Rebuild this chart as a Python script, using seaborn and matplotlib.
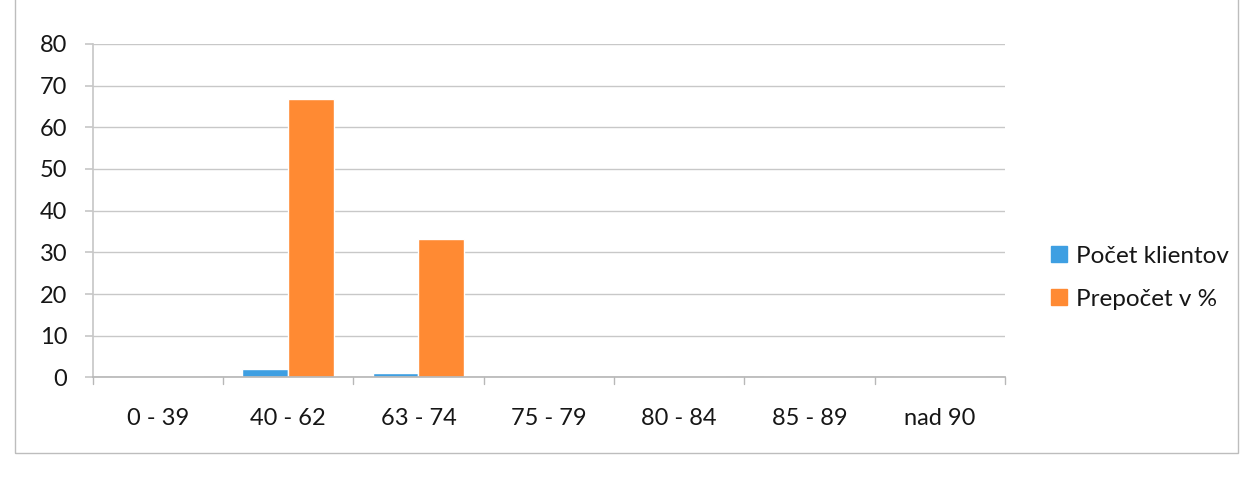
import matplotlib
matplotlib.use("Agg")
import matplotlib.pyplot as plt
import seaborn as sns
import pandas as pd
from matplotlib.patches import Rectangle
from matplotlib.lines import Line2D

categories = ["0 - 39", "40 - 62", "63 - 74", "75 - 79", "80 - 84", "85 - 89", "nad 90"]
pocet_klientov = [0, 2, 1, 0, 0, 0, 0]
prepocet_pct = [0, 66.7, 33.3, 0, 0, 0, 0]
series_names = ["Počet klientov", "Prepočet v %"]
colors = ["#3E9FE2", "#FF8A33"]

df = pd.DataFrame({
    "Veková skupina": categories * 2,
    "Hodnota": pocet_klientov + prepocet_pct,
    "Séria": [series_names[0]] * len(categories) + [series_names[1]] * len(categories),
})

sns.set_theme(style="white")
plt.rcParams["font.family"] = ["Lato", "DejaVu Sans"]

fig = plt.figure(figsize=(12.5, 4.87), dpi=100)
ax = fig.add_axes([0.074, 0.225, 0.73, 0.685])

sns.barplot(data=df, x="Veková skupina", y="Hodnota", hue="Séria",
            palette=colors, width=0.7, ax=ax, legend=False,
            saturation=1, errorbar=None)

ax.set_ylim(0, 80)
ax.set_yticks(range(0, 81, 10))
ax.set_xlim(-0.5, len(categories) - 0.5)
ax.yaxis.grid(True, color="#c8c8c8", linewidth=1)
ax.set_axisbelow(True)
ax.set_xlabel("")
ax.set_ylabel("")

for s in ["top", "right"]:
    ax.spines[s].set_visible(False)
ax.spines["left"].set_color("#c8c8c8")
ax.spines["bottom"].set_color("#b8b8b8")

ax.tick_params(axis="y", labelsize=17, colors="#161616", length=6,
               color="#c8c8c8", pad=12, left=True)
ax.tick_params(axis="x", labelsize=17, colors="#161616", length=0, pad=22)

# small separators between categories under the x axis
for b in range(len(categories) + 1):
    ax.plot([b - 0.5, b - 0.5], [0, -1.6], color="#b8b8b8", linewidth=1,
            clip_on=False)

handles = [Line2D([0], [0], marker="s", linestyle="", markersize=11,
                  markerfacecolor=c, markeredgecolor=c) for c in colors]
fig.legend(handles, series_names, loc="center left",
           bbox_to_anchor=(0.822, 0.43), frameon=False, fontsize=17.5,
           handletextpad=0.3, labelspacing=0.9, handlelength=0.8,
           labelcolor="#161616")

# chart frame
fig.add_artist(Rectangle((0.012, 0.07), 0.978, 1.0, transform=fig.transFigure,
                         fill=False, edgecolor="#bdbdbd", linewidth=1))

fig.savefig("out.png", dpi=100)
